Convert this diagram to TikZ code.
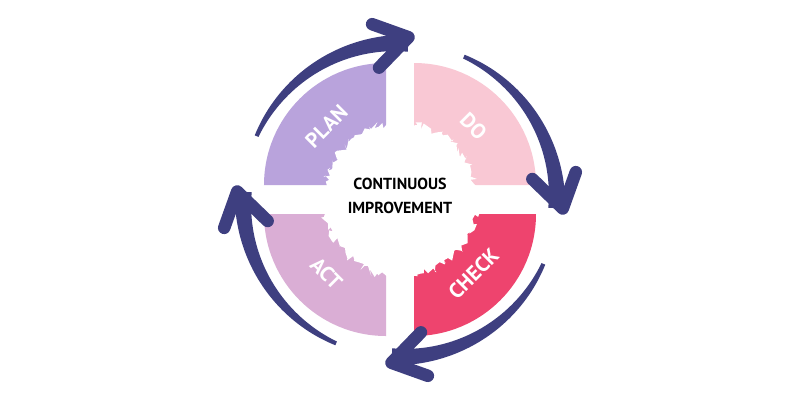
\documentclass[tikz,border=0pt]{standalone}
\usepackage{fontspec}
\setmainfont{PT Sans}
\usepackage{xcolor}
\definecolor{navy}{HTML}{3E3F80}
\definecolor{lavender}{HTML}{B9A3DC}
\definecolor{blush}{HTML}{F9C8D4}
\definecolor{rose}{HTML}{EE446E}
\definecolor{orchid}{HTML}{DAAED5}
\usetikzlibrary{decorations.pathmorphing}

\begin{document}
\begin{tikzpicture}[x=1pt, y=1pt,
  qtext/.style={text=white, inner sep=0pt, font=\fontsize{21}{21}\selectfont\bfseries},
  chevron/.style={draw=navy, line width=12.5pt, line cap=round, line join=round}]
\useasboundingbox[fill=white] (-400,-200) rectangle (400,200);
% quarter discs
\fill[lavender] (-14,15) -- ++(-122,0) arc[start angle=180, end angle=90, radius=122] -- cycle;
\fill[blush] (14,15) -- ++(0,122) arc[start angle=90, end angle=0, radius=122] -- cycle;
\fill[rose] (14,-14) -- ++(122,0) arc[start angle=0, end angle=-90, radius=122] -- cycle;
\fill[orchid] (-14,-14) -- ++(0,-122) arc[start angle=-90, end angle=-180, radius=122] -- cycle;
% ragged white centre
\pgfmathsetseed{12}
\fill[white, decorate, decoration={random steps, segment length=2.5pt, amplitude=4pt}] (0,0) circle (77);
% cycle arrows
\foreach \a in {90,0,-90,180} {
  \fill[navy] plot[domain=0:1, samples=40] ({\a+66-69*\x}:{159+6.5*\x})
    -- plot[domain=1:0, samples=40] ({\a+66-69*\x}:{155-6.5*\x}) -- cycle;
  \draw[chevron] (\a+9:178) -- (\a-3:163) -- (\a+9:134);
}
\node[qtext, rotate=45] (lplan) at (135:104) {PLAN};
\node[qtext, rotate=-45] (ldo) at (45:104) {DO};
\node[qtext, rotate=45] (lcheck) at (-45:104) {CHECK};
\node[qtext, rotate=-45] (lact) at (-135:104) {ACT};
\node[align=center, font=\fontsize{16}{24}\selectfont\bfseries] (centre) at (0,4) {CONTINUOUS\\IMPROVEMENT};
\end{tikzpicture}
\end{document}
